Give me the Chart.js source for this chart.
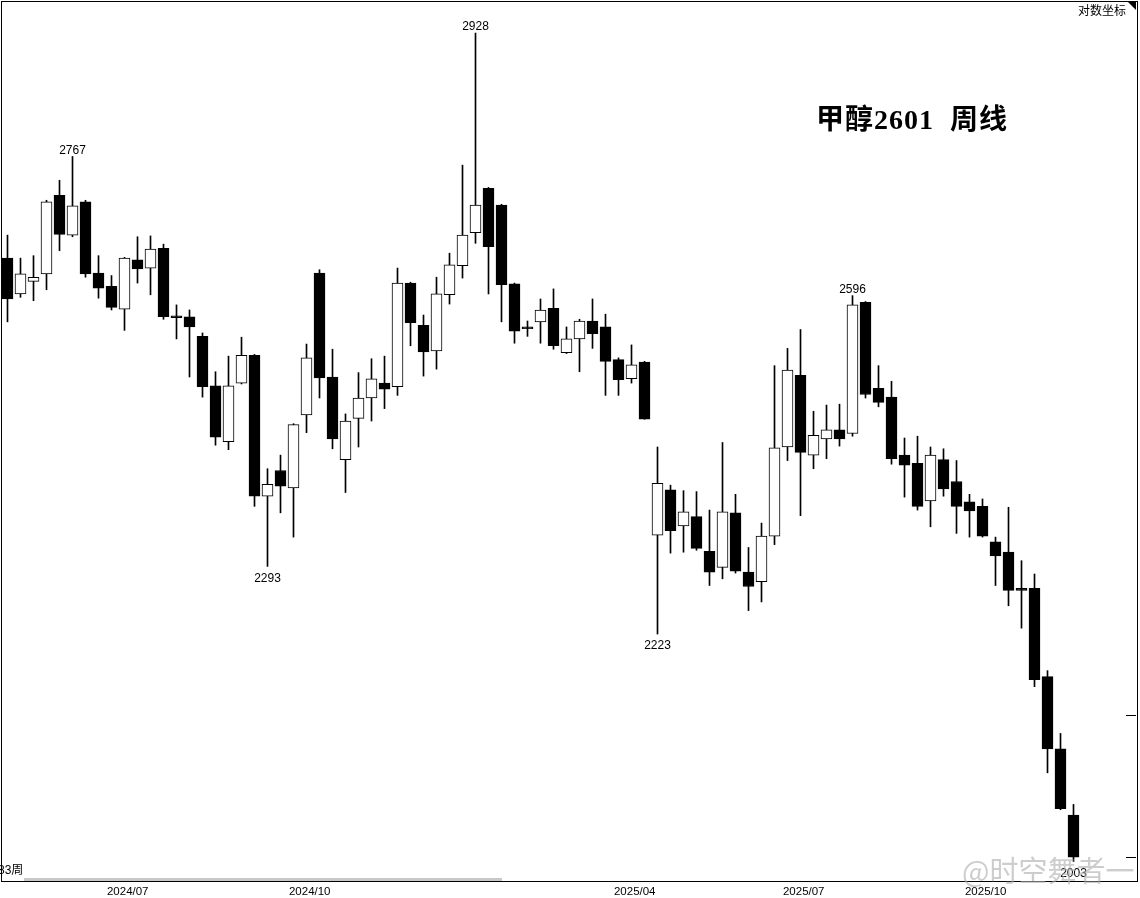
<!DOCTYPE html>
<html>
<head>
<meta charset="utf-8">
<script src="https://cdn.jsdelivr.net/npm/chart.js@4.4.1/dist/chart.umd.min.js"></script>
<style>
  html, body { margin:0; padding:0; background:#fff; overflow:hidden; }
  #wrap { position:relative; width:1140px; height:898px; }
  #c { position:absolute; left:0; top:0; }
  .txt { position:absolute; white-space:pre; color:#000; }
</style>
</head>
<body>
<div id="wrap">
  <canvas id="c" width="1140" height="898"></canvas>
  <div style="position:absolute;left:1px;top:1px;width:1137px;height:881px;box-sizing:border-box;border:1px solid #000;pointer-events:none;"></div>
  <div style="position:absolute;left:1128px;top:2px;width:0;height:0;border-top:8px solid #000;border-left:8px solid transparent;"></div>
  <div style="position:absolute;left:24px;top:878px;width:478px;height:3px;background:#c8c8c8;"></div>
  <div class="txt" style="left:1078px;top:2px;font:12px 'Noto Sans CJK SC';line-height:16px;">对数坐标</div>
  <div class="txt" style="left:816px;top:104px;font:bold 28px 'Liberation Serif','Noto Sans CJK SC';line-height:32px;letter-spacing:1px;">甲醇2601  周线</div>
  <div class="txt" style="left:-2px;top:863px;font:12px 'Liberation Sans','Noto Sans CJK SC';line-height:14px;">83周</div>
  <div class="txt" style="left:962px;top:852px;font:29px 'Noto Sans CJK SC';line-height:34px;color:rgba(175,175,175,0.62);">@时空舞者一</div>
</div>
<script>
// Weekly OHLC of 甲醇2601 (83 weeks)
const weekIndex = Array.from({length: 83}, (_, i) => i);
const openP = [2641,2598,2613,2622,2718,2669,2710,2623,2607,2580,2639,2629,2653,2572,2571,2548,2491,2428,2494,2526,
  2368,2396,2377,2458,2623,2501,2408,2454,2477,2494,2490,2611,2561,2531,2597,2632,2672,2727,2706,2610,
  2559,2565,2581,2529,2545,2566,2559,2521,2499,2518,2326,2375,2336,2346,2309,2292,2350,2287,2277,2325,
  2422,2503,2413,2431,2441,2437,2588,2488,2478,2413,2404,2363,2408,2384,2362,2357,2319,2308,2270,2270,
  2180,2109,2046];
const highP = [2669,2641,2644,2712,2737,2767,2712,2644,2620,2642,2667,2668,2658,2585,2579,2552,2507,2525,2547,2527,
  2398,2413,2448,2539,2627,2533,2459,2506,2522,2525,2629,2612,2573,2618,2647,2756,2928,2728,2707,2611,
  2566,2592,2604,2559,2568,2592,2574,2523,2538,2519,2422,2380,2374,2373,2353,2427,2370,2313,2339,2514,
  2534,2556,2462,2469,2470,2596,2589,2514,2496,2432,2434,2422,2420,2407,2370,2365,2324,2356,2299,2285,
  2186,2124,2056];
const lowP = [2565,2594,2590,2603,2650,2667,2618,2593,2579,2555,2611,2597,2568,2545,2501,2478,2424,2419,2493,2357,
  2293,2350,2324,2438,2477,2420,2372,2422,2451,2465,2480,2537,2502,2510,2586,2617,2659,2598,2565,2540,
  2548,2540,2533,2528,2507,2534,2480,2480,2494,2453,2223,2307,2308,2310,2273,2280,2286,2247,2256,2316,
  2407,2347,2398,2409,2423,2434,2477,2467,2403,2367,2353,2335,2368,2328,2324,2324,2273,2252,2229,2170,
  2086,2051,2003];
const closeP = [2592,2622,2618,2710,2670,2705,2622,2605,2582,2641,2628,2652,2571,2570,2559,2490,2433,2491,2526,2368,
  2381,2379,2447,2523,2500,2431,2451,2477,2499,2487,2611,2564,2530,2598,2633,2669,2706,2655,2609,2554,
  2557,2579,2537,2545,2566,2551,2519,2498,2515,2453,2382,2331,2351,2312,2287,2351,2288,2272,2325,2421,
  2509,2416,2435,2441,2431,2585,2481,2472,2409,2402,2357,2413,2376,2357,2352,2325,2304,2268,2268,2177,
  2109,2052,2007];

// x-axis month labels and the week at which each starts
const tickLabels = ['2024/07','2024/10','2025/04','2025/07','2025/10'];
const tickWeeks = [8, 22, 47, 60, 74];
// right-axis tick marks
const rightTicks = [2142, 2007];
// annotated extremes
const markHighs = [5, 36, 65];
const markLows = [20, 50, 82];

const yMin = 1986, yMax = 2970;

const labelPlugin = {
  id: 'extremeLabels',
  afterDatasetsDraw(chart) {
    const ctx = chart.ctx, xs = chart.scales.x, ys = chart.scales.y;
    ctx.save();
    ctx.font = '12px "Liberation Sans"';
    ctx.fillStyle = '#000';
    ctx.textAlign = 'center';
    ctx.textBaseline = 'middle';
    markHighs.forEach(i => ctx.fillText(String(highP[i]), xs.getPixelForValue(i), ys.getPixelForValue(highP[i]) - 6));
    markLows.forEach(i => ctx.fillText(String(lowP[i]), xs.getPixelForValue(i), ys.getPixelForValue(lowP[i]) + 12));
    ctx.restore();
  }
};

new Chart(document.getElementById('c'), {
  type: 'bar',
  data: {
    datasets: [
      {
        label: 'body',
        data: weekIndex.map(i => ({x: i, y: [openP[i], closeP[i]]})),
        backgroundColor: weekIndex.map(i => closeP[i] > openP[i] ? '#ffffff' : '#000000'),
        borderColor: '#000',
        borderWidth: 1,
        borderSkipped: false,
        barThickness: 11,
        maxBarThickness: 11,
        grouped: false,
        order: 1,
        yAxisID: 'y'
      },
      {
        label: 'wick',
        data: weekIndex.map(i => ({x: i, y: [lowP[i], highP[i]]})),
        backgroundColor: '#000',
        borderWidth: 0,
        barThickness: 1,
        maxBarThickness: 1,
        grouped: false,
        order: 2,
        yAxisID: 'y'
      }
    ]
  },
  options: {
    responsive: false,
    animation: false,
    devicePixelRatio: 1,
    layout: { padding: { left: 1, right: 4, top: 2, bottom: 0 } },
    plugins: { legend: { display: false }, tooltip: { enabled: false } },
    scales: {
      x: {
        type: 'linear',
        offset: false,
        bounds: 'ticks',
        min: -0.5,
        max: -0.5 + 1125 / 13,
        grid: { display: false, drawTicks: false, offset: false },
        border: { display: false },
        afterBuildTicks: s => { s.ticks = tickWeeks.map(w => ({ value: w - 0.35 })); },
        afterFit: s => { s.height = 18; },
        ticks: {
          align: 'start',
          padding: 5,
          autoSkip: false,
          maxRotation: 0,
          color: '#000',
          font: { family: 'Liberation Sans', size: 11.5 },
          callback: (v, idx) => tickLabels[idx]
        }
      },
      y: { type: 'logarithmic', min: yMin, max: yMax, display: false },
      y2: {
        type: 'logarithmic', position: 'right', min: yMin, max: yMax,
        grid: { drawOnChartArea: false, drawTicks: true, tickLength: 10, color: '#000', lineWidth: 1 },
        border: { display: false },
        ticks: { display: false },
        afterBuildTicks: s => { s.ticks = rightTicks.map(v => ({ value: v })); }
      }
    }
  },
  plugins: [labelPlugin]
});
</script>
</body>
</html>
